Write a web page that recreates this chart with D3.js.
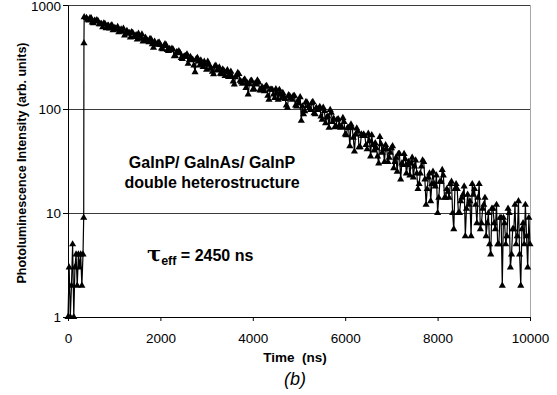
<!DOCTYPE html>
<html>
<head>
<meta charset="utf-8">
<script src="https://cdn.jsdelivr.net/npm/d3@7"></script>
<style>
  body { margin: 0; background: #fff; }
  svg { font-family: "Liberation Sans", Arial, sans-serif; }
  .axis text { font-size: 13.5px; fill: #000; }
  .axis path, .axis line { stroke: #000; }
</style>
</head>
<body>
<div id="chart"></div>
<script>
// photoluminescence decay, counts
const earlyTimes = [0, 25, 50, 75, 100, 125, 150, 175, 200, 225, 250, 275, 300, 325, 340, 345, 350];
const earlyCounts = [1, 3, 1, 2, 5, 1, 3, 4, 2, 4, 3, 4, 2, 4, 9, 430, 765];

// counts at 400, 450, ... 10000 ns
const decayCountsA = [
  751, 712, 746, 668, 695, 700, 655, 611, 658, 631,
  595, 640, 602, 580, 549, 584, 593, 530, 537, 487,
  541, 503, 467, 501, 522, 454, 466, 440, 467, 389,
  419, 434, 412, 376, 420, 369, 378, 381, 322, 352,
  360, 310, 316, 325, 272, 317, 298, 226, 311, 263,
  276, 285, 239, 267, 246, 216, 261, 242, 219, 240,
  208, 237, 216, 205, 172, 210, 217, 181, 187, 159,
  138, 185, 153, 175, 189, 152, 162, 148, 167, 123,
  154, 138, 155, 123, 137, 143, 125, 103, 133, 123,
  134, 106, 113, 77, 89, 117, 107, 98, 117, 89,
  98, 105, 79, 96, 83, 66, 92, 81, 68, 80,
  66, 82, 57, 66, 44, 66, 39, 65, 43, 57,
  57, 45, 58, 35, 45, 47, 35, 54, 38, 31,
  41, 34, 42, 27, 34, 37, 21, 29, 33, 29,
  23, 34, 28, 24, 19, 28, 31, 12, 22, 13,
  25, 18, 10, 20, 26, 14, 17, 14, 20, 7,
  19, 10, 13, 15, 6, 15, 13, 19, 17, 8,
  19, 8, 12, 6, 10, 4, 11, 7, 5, 9,
  2, 8, 6, 10, 4, 7, 5, 13, 2, 8,
  12, 3, 5
];

// counts at 425, 475, ... 9975 ns
const decayCountsB = [
  722, 747, 679, 707, 717, 653, 658, 667, 598, 634,
  628, 571, 595, 616, 556, 558, 509, 563, 539, 549,
  492, 514, 530, 474, 446, 485, 453, 473, 421, 444,
  416, 434, 383, 403, 411, 362, 367, 373, 323, 350,
  344, 303, 321, 336, 294, 296, 263, 301, 286, 293,
  254, 270, 285, 245, 228, 257, 235, 251, 216, 232,
  226, 203, 229, 184, 202, 222, 187, 175, 193, 178,
  173, 187, 156, 172, 180, 151, 157, 164, 134, 154,
  153, 128, 141, 153, 127, 130, 108, 136, 127, 133,
  108, 120, 130, 106, 95, 115, 102, 114, 91, 103,
  100, 85, 103, 73, 85, 98, 75, 67, 79, 70,
  67, 75, 56, 66, 71, 53, 57, 61, 43, 55,
  55, 41, 49, 56, 40, 42, 30, 46, 41, 45,
  31, 38, 44, 31, 25, 37, 30, 37, 24, 31,
  30, 22, 32, 17, 24, 32, 21, 17, 24, 19,
  19, 23, 14, 20, 23, 14, 16, 19, 10, 17,
  17, 10, 14, 18, 11, 12, 6, 15, 12, 14,
  7, 11, 14, 8, 5, 11, 8, 12, 5, 9,
  9, 5, 11, 3, 7, 12, 6, 4, 7, 5,
  6, 9
];

const xTicks = [0, 2000, 4000, 6000, 8000, 10000];
const yTicks = [1, 10, 100, 1000];

const data = earlyTimes.map((t, i) => ({ t: t, v: earlyCounts[i] }))
  .concat(decayCountsA.map((v, i) => ({ t: 400 + i * 50, v: v })))
  .concat(decayCountsB.map((v, i) => ({ t: 425 + i * 50, v: v })))
  .sort((a, b) => a.t - b.t);

const width = 557, height = 395;
const margin = { top: 5, right: 27, bottom: 78, left: 68 };
const innerW = width - margin.left - margin.right;
const innerH = height - margin.top - margin.bottom;

const svg = d3.select('#chart').append('svg')
  .attr('width', width)
  .attr('height', height);

const g = svg.append('g')
  .attr('transform', 'translate(' + margin.left + ',' + margin.top + ')');

const x = d3.scaleLinear().domain([0, 10000]).range([0, innerW]);
const y = d3.scaleLog().domain([1, 1000]).range([innerH, 0]);

// gridlines
g.append('g')
  .selectAll('line')
  .data(yTicks.slice(1))
  .enter().append('line')
  .attr('x1', 0)
  .attr('x2', innerW)
  .attr('y1', d => y(d) + 0.5)
  .attr('y2', d => y(d) + 0.5)
  .attr('stroke', '#3a3a3a')
  .attr('stroke-width', 1);

// right border of the plot area
g.append('line')
  .attr('x1', innerW + 0.5)
  .attr('x2', innerW + 0.5)
  .attr('y1', 0)
  .attr('y2', innerH)
  .attr('stroke', '#a8a8a8');

const line = d3.line()
  .x(d => x(d.t))
  .y(d => y(d.v));

g.append('path')
  .datum(data)
  .attr('fill', 'none')
  .attr('stroke', '#000')
  .attr('stroke-width', 1.2)
  .attr('d', line);

const tri = d3.symbol().type(d3.symbolTriangle).size(22);
g.append('g')
  .selectAll('path')
  .data(data)
  .enter().append('path')
  .attr('transform', d => 'translate(' + x(d.t) + ',' + y(d.v) + ')')
  .attr('d', tri)
  .attr('fill', '#000');

g.append('g')
  .attr('class', 'axis')
  .attr('transform', 'translate(0,' + innerH + ')')
  .call(d3.axisBottom(x).tickValues(xTicks).tickFormat(d3.format('d'))
    .tickSize(4).tickSizeOuter(0).tickPadding(12));

const yAxis = g.append('g')
  .attr('class', 'axis')
  .call(d3.axisLeft(y).tickValues(yTicks).tickFormat(d3.format('d'))
    .tickSize(5).tickSizeOuter(0).tickPadding(2));
yAxis.selectAll('.tick text').filter(d => d === 1000).attr('y', 1.5);

// axis titles
svg.append('text')
  .attr('transform', 'translate(26,' + (margin.top + innerH / 2 + 2) + ') rotate(-90)')
  .attr('text-anchor', 'middle')
  .attr('font-size', 12.5)
  .attr('font-weight', 'bold')
  .text('Photoluminescence Intensity (arb. units)');

svg.append('text')
  .attr('x', 295)
  .attr('y', 362)
  .attr('text-anchor', 'middle')
  .attr('font-size', 13.5)
  .attr('font-weight', 'bold')
  .style('white-space', 'pre')
  .text('Time  (ns)');

svg.append('text')
  .attr('x', 295)
  .attr('y', 385)
  .attr('text-anchor', 'middle')
  .attr('font-size', 18)
  .attr('font-style', 'italic')
  .text('(b)');

// annotations
const note = svg.append('text')
  .attr('text-anchor', 'middle')
  .attr('font-size', 16)
  .attr('font-weight', 'bold');
note.append('tspan').attr('x', 212).attr('y', 168).text('GaInP/ GaInAs/ GaInP');
note.append('tspan').attr('x', 212).attr('y', 188).text('double heterostructure');

const tau = svg.append('text')
  .attr('x', 147)
  .attr('y', 261)
  .attr('font-size', 16)
  .attr('font-weight', 'bold');
tau.append('tspan').attr('font-size', 21).attr('font-family', '"DejaVu Serif", serif').text('\u03c4');
tau.append('tspan').attr('font-size', 12.5).attr('dy', 4).text('eff');
tau.append('tspan').attr('dy', -4).text(' = 2450 ns');
</script>
</body>
</html>
